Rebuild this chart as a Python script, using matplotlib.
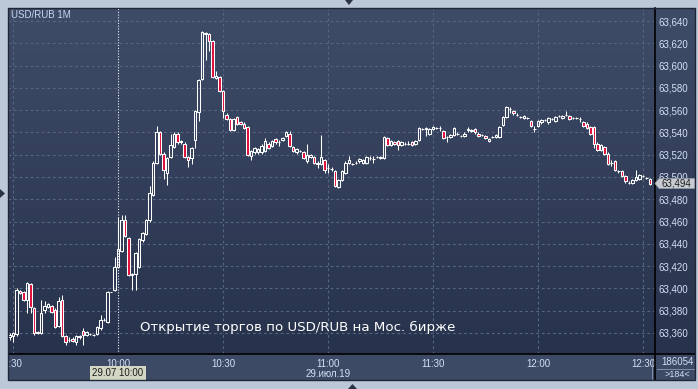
import matplotlib
matplotlib.use('Agg')
import matplotlib.pyplot as plt
import numpy as np
from matplotlib.patches import Rectangle, Polygon
from matplotlib.collections import LineCollection
from matplotlib.lines import Line2D

W, H = 698, 389

# ---- data: 1-minute candles, minutes after 9:30 (first candle 9:29) ----
opens = [63.356, 63.357, 63.359, 63.398, 63.397, 63.390, 63.404, 63.382, 63.361, 63.360,
         63.381, 63.383, 63.384, 63.381, 63.366, 63.390, 63.357, 63.354, 63.355, 63.352,
         63.356, 63.362, 63.358, 63.359, 63.358, 63.359, 63.364, 63.372, 63.370, 63.397,
         63.399, 63.419, 63.434, 63.461, 63.445, 63.412, 63.413, 63.419, 63.443, 63.449,
         63.461, 63.484, 63.513, 63.540, 63.521, 63.504, 63.518, 63.527, 63.539, 63.531,
         63.530, 63.518, 63.517, 63.533, 63.558, 63.588, 63.628, 63.628, 63.622, 63.589,
         63.590, 63.577, 63.556, 63.552, 63.542, 63.554, 63.549, 63.548, 63.545, 63.519,
         63.522, 63.522, 63.522, 63.523, 63.530, 63.528, 63.534, 63.531, 63.533, 63.537,
         63.539, 63.527, 63.522, 63.523, 63.522, 63.514, 63.518, 63.518, 63.512, 63.512,
         63.515, 63.508, 63.507, 63.505, 63.491, 63.497, 63.504, 63.513, 63.512, 63.513,
         63.514, 63.513, 63.513, 63.517, 63.516, 63.518, 63.517, 63.517, 63.535, 63.529,
         63.531, 63.532, 63.529, 63.530, 63.530, 63.531, 63.530, 63.533, 63.543, 63.543,
         63.539, 63.543, 63.544, 63.544, 63.541, 63.536, 63.536, 63.538, 63.539, 63.537,
         63.537, 63.542, 63.541, 63.543, 63.539, 63.538, 63.537, 63.532, 63.536, 63.536,
         63.536, 63.547, 63.554, 63.561, 63.559, 63.556, 63.554, 63.553, 63.553, 63.550,
         63.543, 63.546, 63.549, 63.551, 63.549, 63.552, 63.550, 63.555, 63.553, 63.556,
         63.555, 63.553, 63.553, 63.552, 63.549, 63.548, 63.545, 63.545, 63.530, 63.524,
         63.527, 63.521, 63.513, 63.514, 63.505, 63.505, 63.501, 63.495, 63.495, 63.497,
         63.498, 63.501, 63.499, 63.498]
highs = [63.360, 63.361, 63.400, 63.399, 63.398, 63.406, 63.405, 63.383, 63.362, 63.390,
         63.389, 63.387, 63.385, 63.382, 63.392, 63.394, 63.358, 63.356, 63.356, 63.358,
         63.358, 63.364, 63.362, 63.360, 63.359, 63.366, 63.376, 63.373, 63.398, 63.397,
         63.428, 63.464, 63.466, 63.466, 63.446, 63.414, 63.433, 63.445, 63.451, 63.462,
         63.492, 63.514, 63.546, 63.541, 63.522, 63.518, 63.539, 63.540, 63.540, 63.533,
         63.531, 63.519, 63.527, 63.560, 63.588, 63.631, 63.630, 63.629, 63.623, 63.595,
         63.591, 63.578, 63.557, 63.553, 63.553, 63.555, 63.550, 63.549, 63.546, 63.524,
         63.527, 63.526, 63.530, 63.535, 63.531, 63.533, 63.535, 63.533, 63.536, 63.541,
         63.541, 63.528, 63.526, 63.524, 63.523, 63.530, 63.521, 63.519, 63.514, 63.538,
         63.516, 63.512, 63.509, 63.506, 63.498, 63.506, 63.514, 63.519, 63.513, 63.514,
         63.517, 63.516, 63.519, 63.519, 63.519, 63.519, 63.519, 63.537, 63.536, 63.533,
         63.532, 63.533, 63.532, 63.531, 63.532, 63.532, 63.533, 63.545, 63.544, 63.545,
         63.544, 63.546, 63.545, 63.546, 63.542, 63.537, 63.539, 63.545, 63.540, 63.538,
         63.540, 63.545, 63.543, 63.544, 63.540, 63.539, 63.538, 63.535, 63.537, 63.539,
         63.546, 63.555, 63.564, 63.563, 63.560, 63.557, 63.555, 63.556, 63.554, 63.551,
         63.546, 63.551, 63.552, 63.552, 63.554, 63.553, 63.555, 63.556, 63.556, 63.559,
         63.556, 63.554, 63.554, 63.554, 63.550, 63.549, 63.546, 63.546, 63.531, 63.530,
         63.528, 63.522, 63.515, 63.515, 63.506, 63.506, 63.502, 63.496, 63.498, 63.506,
         63.503, 63.502, 63.500, 63.499]
lows = [63.354, 63.352, 63.357, 63.395, 63.389, 63.378, 63.378, 63.358, 63.359, 63.359,
        63.378, 63.382, 63.378, 63.364, 63.365, 63.356, 63.349, 63.352, 63.352, 63.349,
        63.355, 63.349, 63.357, 63.358, 63.357, 63.358, 63.363, 63.371, 63.369, 63.397,
        63.398, 63.418, 63.433, 63.446, 63.411, 63.399, 63.399, 63.418, 63.442, 63.448,
        63.460, 63.483, 63.512, 63.520, 63.498, 63.493, 63.517, 63.526, 63.530, 63.530,
        63.517, 63.509, 63.512, 63.526, 63.550, 63.587, 63.605, 63.613, 63.589, 63.588,
        63.576, 63.553, 63.551, 63.541, 63.541, 63.547, 63.547, 63.543, 63.519, 63.515,
        63.521, 63.521, 63.521, 63.522, 63.525, 63.527, 63.530, 63.528, 63.532, 63.536,
        63.527, 63.522, 63.521, 63.522, 63.516, 63.513, 63.517, 63.512, 63.508, 63.511,
        63.504, 63.504, 63.505, 63.491, 63.490, 63.496, 63.503, 63.512, 63.511, 63.512,
        63.513, 63.512, 63.512, 63.515, 63.513, 63.517, 63.516, 63.516, 63.528, 63.528,
        63.529, 63.524, 63.528, 63.529, 63.529, 63.528, 63.529, 63.532, 63.542, 63.537,
        63.538, 63.542, 63.543, 63.541, 63.534, 63.531, 63.535, 63.537, 63.538, 63.536,
        63.536, 63.540, 63.540, 63.539, 63.536, 63.537, 63.534, 63.531, 63.535, 63.535,
        63.535, 63.546, 63.553, 63.557, 63.556, 63.555, 63.553, 63.552, 63.552, 63.545,
        63.540, 63.545, 63.548, 63.550, 63.548, 63.551, 63.549, 63.554, 63.552, 63.555,
        63.551, 63.552, 63.552, 63.549, 63.545, 63.543, 63.538, 63.526, 63.523, 63.523,
        63.520, 63.511, 63.510, 63.505, 63.504, 63.500, 63.495, 63.494, 63.494, 63.496,
        63.497, 63.500, 63.498, 63.493]
closes = [63.358, 63.360, 63.399, 63.396, 63.390, 63.405, 63.383, 63.360, 63.360, 63.378,
          63.384, 63.386, 63.379, 63.365, 63.389, 63.357, 63.352, 63.354, 63.353, 63.357,
          63.357, 63.358, 63.361, 63.359, 63.358, 63.365, 63.372, 63.372, 63.397, 63.397,
          63.419, 63.435, 63.461, 63.447, 63.412, 63.413, 63.432, 63.444, 63.450, 63.461,
          63.486, 63.513, 63.540, 63.521, 63.506, 63.517, 63.529, 63.539, 63.531, 63.532,
          63.518, 63.515, 63.526, 63.559, 63.587, 63.630, 63.629, 63.622, 63.590, 63.591,
          63.577, 63.559, 63.552, 63.542, 63.552, 63.548, 63.548, 63.544, 63.520, 63.523,
          63.526, 63.525, 63.528, 63.532, 63.526, 63.532, 63.531, 63.531, 63.535, 63.540,
          63.528, 63.523, 63.525, 63.523, 63.517, 63.520, 63.520, 63.513, 63.513, 63.518,
          63.506, 63.508, 63.507, 63.492, 63.497, 63.505, 63.513, 63.515, 63.512, 63.513,
          63.516, 63.515, 63.518, 63.517, 63.516, 63.518, 63.518, 63.536, 63.529, 63.532,
          63.530, 63.529, 63.531, 63.530, 63.530, 63.529, 63.532, 63.544, 63.543, 63.544,
          63.543, 63.545, 63.544, 63.544, 63.535, 63.536, 63.538, 63.544, 63.539, 63.537,
          63.539, 63.543, 63.542, 63.540, 63.537, 63.538, 63.535, 63.534, 63.536, 63.538,
          63.545, 63.554, 63.563, 63.561, 63.557, 63.556, 63.554, 63.555, 63.553, 63.546,
          63.543, 63.550, 63.551, 63.551, 63.553, 63.552, 63.554, 63.555, 63.555, 63.556,
          63.552, 63.553, 63.553, 63.552, 63.546, 63.544, 63.539, 63.530, 63.524, 63.529,
          63.521, 63.512, 63.513, 63.506, 63.505, 63.501, 63.496, 63.495, 63.497, 63.500,
          63.502, 63.501, 63.499, 63.494]
minutes = list(range(-1, len(closes) - 1))  # minutes after 9:30

x_tick_minutes = [0, 30, 60, 90, 120, 150, 180]
x_tick_labels = ['9:30', '10:00', '10:30', '11:00', '11:30', '12:00', '12:30']
y_ticks = [63.360, 63.380, 63.400, 63.420, 63.440, 63.460, 63.480, 63.500,
           63.520, 63.540, 63.560, 63.580, 63.600, 63.620, 63.640]
y_tick_labels = ['63,360', '63,380', '63,400', '63,420', '63,440', '63,460', '63,480', '63,500',
                 '63,520', '63,540', '63,560', '63,580', '63,600', '63,620', '63,640']
last_price_label = '63,494'
session_minute = 30
title = 'USD/RUB 1M'
annotation = 'Открытие торгов по USD/RUB на Мос. бирже'
date_label = '29.июл.19'
cursor_label = '29.07 10:00'
volume_label = '186054'
bars_label = '>184<'

# ---- figure ----
FRAME = '#bcc8d8'
TOP_BG = np.array([0x3f, 0x4c, 0x68]) / 255
BOT_BG = np.array([0x27, 0x32, 0x4c]) / 255
AXBAR = '#3d4a66'
LABEL = '#d4e0f4'
GRID = '#56667f'
RED = '#e0103c'

fig = plt.figure(figsize=(W / 100, H / 100), dpi=100, facecolor=FRAME)


def fr(x0, y0, x1, y1):
    return [x0 / W, 1 - y1 / H, (x1 - x0) / W, (y1 - y0) / H]


def fx(x):
    return x / W


def fy(y):
    return 1 - y / H


# gradient background of plot + right axis
bg = fig.add_axes(fr(8, 8, 695, 354), zorder=-2)
grad = np.linspace(0, 1, 256)[:, None]
img = TOP_BG[None, None, :] * (1 - grad[:, :, None]) + BOT_BG[None, None, :] * grad[:, :, None]
bg.imshow(img, aspect='auto', extent=[0, 1, 0, 1], interpolation='bilinear')
bg.set_axis_off()
# bottom axis bar
fig.patches.append(Rectangle((fx(8), fy(380)), fx(687), 26 / H, transform=fig.transFigure,
                             facecolor=AXBAR, edgecolor='none', zorder=-1))

ax = fig.add_axes(fr(8, 8, 655, 354))
ax.set_facecolor('none')
ax.set_xlim(-1.43, 183.43)
ax.set_ylim(63.3411, 63.6517)
for s in ax.spines.values():
    s.set_visible(False)

# grid
for yv in y_ticks:
    ax.axhline(yv, color=GRID, lw=0.8, ls=(0, (2.5, 2.5)), zorder=0)
for xv in x_tick_minutes:
    if xv == session_minute:
        ax.axvline(xv, color='#e8eef8', lw=0.8, ls=(0, (1, 1.5)), zorder=0.5)
    else:
        ax.axvline(xv, color=GRID, lw=0.8, ls=(0, (2.5, 2.5)), zorder=0)

# candles
bw = 0.62
segs = []
for m, o, h, l, c in zip(minutes, opens, highs, lows, closes):
    top, bot = max(o, c), min(o, c)
    if h > top:
        segs.append([(m, top), (m, h)])
    if l < bot:
        segs.append([(m, l), (m, bot)])
    fc = RED if c < o else 'none'
    ax.add_patch(Rectangle((m - bw / 2, bot), bw, top - bot, facecolor=fc,
                           edgecolor='white', lw=0.75, zorder=3))
ax.add_collection(LineCollection(segs, colors='white', linewidths=0.75, zorder=2.5))

# axes ticks
ax.yaxis.tick_right()
ax.set_yticks(y_ticks, y_tick_labels)
ax.set_xticks(x_tick_minutes, x_tick_labels)
ax.tick_params(axis='y', length=0, pad=2.2, labelsize=7, labelcolor=LABEL)
ax.tick_params(axis='x', length=0, pad=3.5, labelsize=7, labelcolor=LABEL)
for t in ax.get_yticklabels() + ax.get_xticklabels():
    t.set_fontfamily('Liberation Sans')

# texts
fig.text(fx(11), fy(15), title, color='#c8d6ee', fontsize=7, va='center', ha='left',
         family='Liberation Sans')
fig.text(fx(140), fy(327), annotation, color='white', fontsize=9.6, va='center', ha='left',
         family='DejaVu Sans')
fig.text(fx(328), fy(374), date_label, color=LABEL, fontsize=7, va='center', ha='center',
         family='Liberation Sans')
fig.text(fx(118), fy(373.5), cursor_label, color='#1c1c1c', fontsize=7, va='center', ha='center',
         family='Liberation Sans',
         bbox=dict(boxstyle='square,pad=0.22', facecolor='#d4d6c4', edgecolor='none'))
fig.text(fx(677), fy(362), volume_label, color=LABEL, fontsize=7, va='center', ha='center',
         family='Liberation Sans')
fig.text(fx(677), fy(374.5), bars_label, color=LABEL, fontsize=6.5, va='center', ha='center',
         family='Liberation Sans')
fig.lines.append(Line2D([fx(657), fx(695)], [fy(368.5), fy(368.5)], transform=fig.transFigure,
                        color='#8090a8', lw=0.7))
fig.lines.append(Line2D([fx(651.5), fx(651.5)], [fy(359), fy(380)], transform=fig.transFigure,
                        color='#8090a8', lw=0.7))

# last price marker
py = fy(183.5)
fig.patches.append(Polygon([(fx(655), py), (fx(659), fy(178.5)), (fx(695), fy(178.5)),
                            (fx(695), fy(188.5)), (fx(659), fy(188.5))], closed=True,
                           transform=fig.transFigure, facecolor='#c8ccd2', edgecolor='#9098a4',
                           lw=0.6, zorder=20))
fig.text(fx(661), py, last_price_label, color='#1c1c1c', fontsize=7, va='center', ha='left',
         family='Liberation Sans', zorder=21)

# separators
fig.lines.append(Line2D([fx(655), fx(655)], [fy(8), fy(380)], transform=fig.transFigure,
                        color='black', lw=1.2, zorder=15))
fig.lines.append(Line2D([fx(8), fx(695)], [fy(354), fy(354)], transform=fig.transFigure,
                        color='black', lw=1.2, zorder=15))

# outer frame covering overflow
fig.patches.append(Rectangle((0, 0), fx(8), 1, transform=fig.transFigure, facecolor=FRAME,
                             edgecolor='none', zorder=30))
fig.patches.append(Rectangle((fx(8), fy(380)), fx(687), 26 / H + 346 / H, transform=fig.transFigure,
                             facecolor='none', edgecolor='#1e2638', lw=1.0, zorder=31))
# navigation triangles
fig.patches.append(Polygon([(fx(345), fy(0)), (fx(353), fy(0)), (fx(349), fy(5))], closed=True,
                           transform=fig.transFigure, facecolor='#2a3345', edgecolor='none', zorder=32))
fig.patches.append(Polygon([(fx(348), fy(389)), (fx(357), fy(389)), (fx(352.5), fy(384))], closed=True,
                           transform=fig.transFigure, facecolor='#2a3345', edgecolor='none', zorder=32))
fig.patches.append(Polygon([(fx(0), fy(189)), (fx(0), fy(198)), (fx(5), fy(193.5))], closed=True,
                           transform=fig.transFigure, facecolor='#2a3345', edgecolor='none', zorder=32))

fig.savefig('out.png', dpi=100, facecolor=FRAME)
